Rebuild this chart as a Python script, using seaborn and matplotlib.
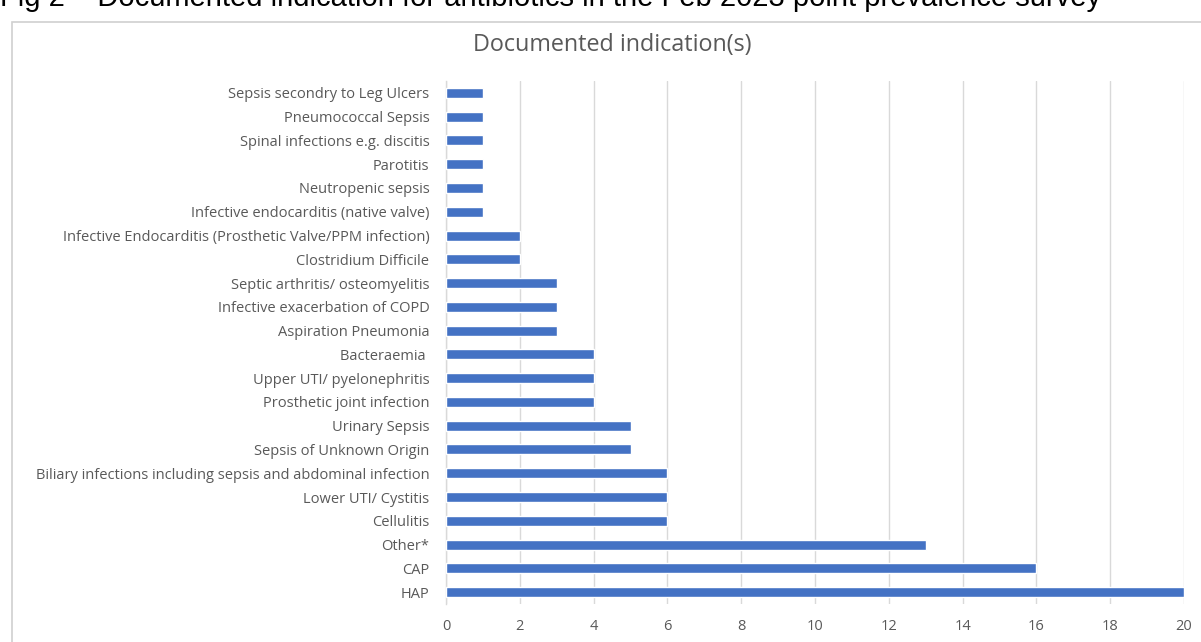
import matplotlib
matplotlib.use("Agg")
import matplotlib.pyplot as plt
import seaborn as sns
import pandas as pd
from matplotlib.patches import Rectangle

indications = [
    "Sepsis secondry to Leg Ulcers",
    "Pneumococcal Sepsis",
    "Spinal infections e.g. discitis",
    "Parotitis",
    "Neutropenic sepsis",
    "Infective endocarditis (native valve)",
    "Infective Endocarditis (Prosthetic Valve/PPM infection)",
    "Clostridium Difficile",
    "Septic arthritis/ osteomyelitis",
    "Infective exacerbation of COPD",
    "Aspiration Pneumonia",
    "Bacteraemia ",
    "Upper UTI/ pyelonephritis",
    "Prosthetic joint infection",
    "Urinary Sepsis",
    "Sepsis of Unknown Origin",
    "Biliary infections including sepsis and abdominal infection",
    "Lower UTI/ Cystitis",
    "Cellulitis",
    "Other*",
    "CAP",
    "HAP",
]
counts = [1, 1, 1, 1, 1, 1, 2, 2, 3, 3, 3, 4, 4, 4, 5, 5, 6, 6, 6, 13, 16, 20]
x_ticks = [0, 2, 4, 6, 8, 10, 12, 14, 16, 18, 20]

df = pd.DataFrame({"indication": indications, "count": counts})

sns.set_theme(style="white")
plt.rcParams["font.family"] = ["Open Sans", "DejaVu Sans"]

fig = plt.figure(figsize=(12.01, 6.42), dpi=100)

# chart frame
fig.patches.append(Rectangle((12 / 1201, -0.01), 1.0, 1 - 22 / 642 + 0.01,
                             transform=fig.transFigure, fill=False,
                             edgecolor="#d0d0d0", linewidth=1.2, zorder=0))

ax = fig.add_axes([446 / 1201, 38 / 642, 738 / 1201, 523 / 642])
sns.barplot(data=df, x="count", y="indication", orient="h", color="#4472C4",
            saturation=1, width=0.42, ax=ax, zorder=3)

ax.set_xlim(0, 20)
ax.set_xticks(x_ticks)
ax.set_xticklabels([str(t) for t in x_ticks], color="#595959", fontsize=10.5)
ax.set_ylim(len(indications) - 0.5, -0.5)
ax.tick_params(axis="y", labelsize=10.5, labelcolor="#595959", length=0, pad=12)
ax.tick_params(axis="x", length=0, pad=11)
ax.set_xlabel("")
ax.set_ylabel("")
ax.xaxis.grid(True, color="#d9d9d9", linewidth=1)
ax.set_axisbelow(True)
for side in ["top", "right", "bottom"]:
    ax.spines[side].set_visible(False)
ax.spines["left"].set_color("#d9d9d9")
ax.spines["left"].set_linewidth(1)

fig.text(612 / 1201, 1 - 45 / 642, "Documented indication(s)", ha="center",
         va="center", fontsize=16.8, color="#595959")

fig.text(0.0, 1 - 6 / 642, "Fig 2 \u2013 Documented indication for antibiotics in the Feb 2023 point prevalence survey",
         ha="left", va="baseline", fontsize=21, color="black",
         family=["Liberation Sans", "DejaVu Sans"])

fig.savefig("out.png", dpi=100)
